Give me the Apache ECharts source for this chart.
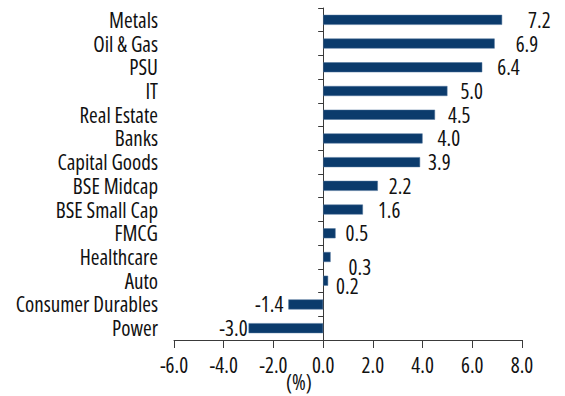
<!DOCTYPE html>
<html>
<head>
<meta charset="utf-8">
<script src="https://cdn.jsdelivr.net/npm/echarts@6/dist/echarts.min.js"></script>
<style>
html,body{margin:0;padding:0;background:#fff;}
#chart{width:565px;height:396px;}
#chart text{font-stretch:75% !important;}
</style>
</head>
<body>
<div id="chart"></div>
<script>
// ---- data ----
var categories = ['Metals','Oil & Gas','PSU','IT','Real Estate','Banks','Capital Goods','BSE Midcap','BSE Small Cap','FMCG','Healthcare','Auto','Consumer Durables','Power'];
var values = [7.2, 6.9, 6.4, 5.0, 4.5, 4.0, 3.9, 2.2, 1.6, 0.5, 0.3, 0.2, -1.4, -3.0];
var xTicks = [-6, -4, -2, 0, 2, 4, 6, 8];

// ---- label placement tweaks (style only) ----
var labelGap = {'Metals':26,'Oil & Gas':21,'PSU':15,'IT':13,'Real Estate':13,'Banks':15,'Capital Goods':8,'BSE Midcap':11,'BSE Small Cap':15,'FMCG':10,'Healthcare':18,'Auto':8,'Consumer Durables':5,'Power':1};
var labelShiftY = {'Healthcare':10,'Auto':5};

var FONT = '"Open Sans","Noto Sans",sans-serif';
var FS = 21;
var LH = 18;
var TXT = '#111111';
var AX = '#3a3a3a';

var seriesData = values.map(function(v, i){
  var c = categories[i];
  return {
    value: v,
    label: {
      position: v >= 0 ? 'right' : 'left',
      distance: labelGap[c],
      offset: [0, labelShiftY[c] || 0]
    }
  };
});

var chart = echarts.init(document.getElementById('chart'), null, {renderer:'svg'});
chart.setOption({
  animation: false,
  backgroundColor: '#ffffff',
  grid: {left: 174, right: 43, top: 8, bottom: 56, containLabel: false, outerBoundsMode: 'none'},
  xAxis: {
    type: 'value',
    min: xTicks[0],
    max: xTicks[xTicks.length-1],
    interval: 2,
    position: 'bottom',
    axisLine: {show: true, onZero: false, lineStyle: {color: AX, width: 1}},
    axisTick: {show: true, length: 8, lineStyle: {color: AX}},
    splitLine: {show: false},
    axisLabel: {margin: 14, fontFamily: FONT, fontSize: FS, color: TXT, formatter: function(v){return v.toFixed(1);}}
  },
  yAxis: [{
    type: 'category',
    data: categories,
    inverse: true,
    position: 'left',
    axisLine: {show: true, onZero: true, lineStyle: {color: AX, width: 1}},
    axisTick: {show: true, length: 5, alignWithLabel: false, interval: 0, lineStyle: {color: AX}},
    axisLabel: {show: false},
    splitLine: {show: false}
  },{
    type: 'category',
    data: categories,
    inverse: true,
    position: 'left',
    offset: 0,
    axisLine: {show: false},
    axisTick: {show: false},
    axisLabel: {show: true, interval: 0, margin: 16, fontFamily: FONT, fontSize: FS, lineHeight: LH, color: TXT},
    splitLine: {show: false}
  }],
  graphic: [{
    type: 'text',
    left: 286,
    top: 371,
    style: {text: '(%)', font: FS + 'px ' + FONT, fill: TXT}
  }],
  series: [{
    type: 'bar',
    yAxisIndex: 0,
    data: seriesData,
    barWidth: 10,
    itemStyle: {color: '#0b3b6c', borderColor: '#4f739b', borderWidth: 0.5},
    label: {show: true, fontFamily: FONT, fontSize: FS, lineHeight: LH, color: TXT, formatter: function(p){return p.value.toFixed(1);}}
  }]
});
</script>
</body>
</html>
